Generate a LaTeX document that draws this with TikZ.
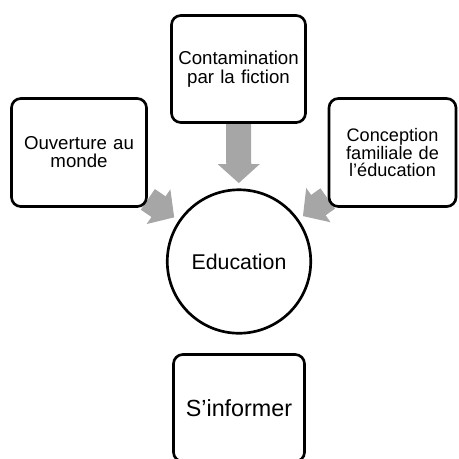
\documentclass[tikz,border=0pt]{standalone}
\usepackage{fontspec}
\setmainfont{Liberation Sans}
\usepackage{xcolor}
\usetikzlibrary{arrows.meta,backgrounds}
\definecolor{arrowgray}{RGB}{166,166,166}

\begin{document}
\begin{tikzpicture}[x=0.75pt, y=-0.75pt,
    box/.style={draw, line width=2pt, rounded corners=7pt, fill=white, align=center, inner sep=0pt, text width=94pt, font=\fontsize{14}{13.5}\selectfont},
    bigarrow/.style={draw=arrowgray, line width=18.75pt, -{Triangle[length=14.25pt, width=30.75pt]}, shorten >=4pt}]
    \clip (0,0) rectangle (459,458);

    % Top box
    \node[box, minimum width=100.5pt, minimum height=80.25pt, font=\fontsize{14}{14}\selectfont] (fiction) at (238.5,69) {Contamination\\par la fiction};

    % Side boxes
    \node[box, minimum width=101.25pt, minimum height=81pt] (monde) at (79,152.5) {Ouverture au\\monde};
    \node[box, minimum width=95.25pt, minimum height=81pt, text width=90pt, font=\fontsize{13.6}{12.2}\selectfont] (famille) at (392.5,152.5) {Conception\\familiale de\\l’éducation};

    % Centre
    \node[draw, circle, line width=2pt, fill=white, inner sep=0pt, minimum size=107.6pt, font=\fontsize{16}{18}\selectfont] (edu) at (239,261.5) {Education};

    % Bottom box
    \node[box, minimum width=98.25pt, minimum height=80.25pt, font=\fontsize{17.5}{20}\selectfont] (info) at (239,408) {S’informer};

    % Arrows
    \begin{pgfonlayer}{background}
        \draw[bigarrow] (fiction) -- (edu);
        \draw[bigarrow] (monde) -- (edu);
        \draw[bigarrow] (famille) -- (edu);
    \end{pgfonlayer}
\end{tikzpicture}
\end{document}
